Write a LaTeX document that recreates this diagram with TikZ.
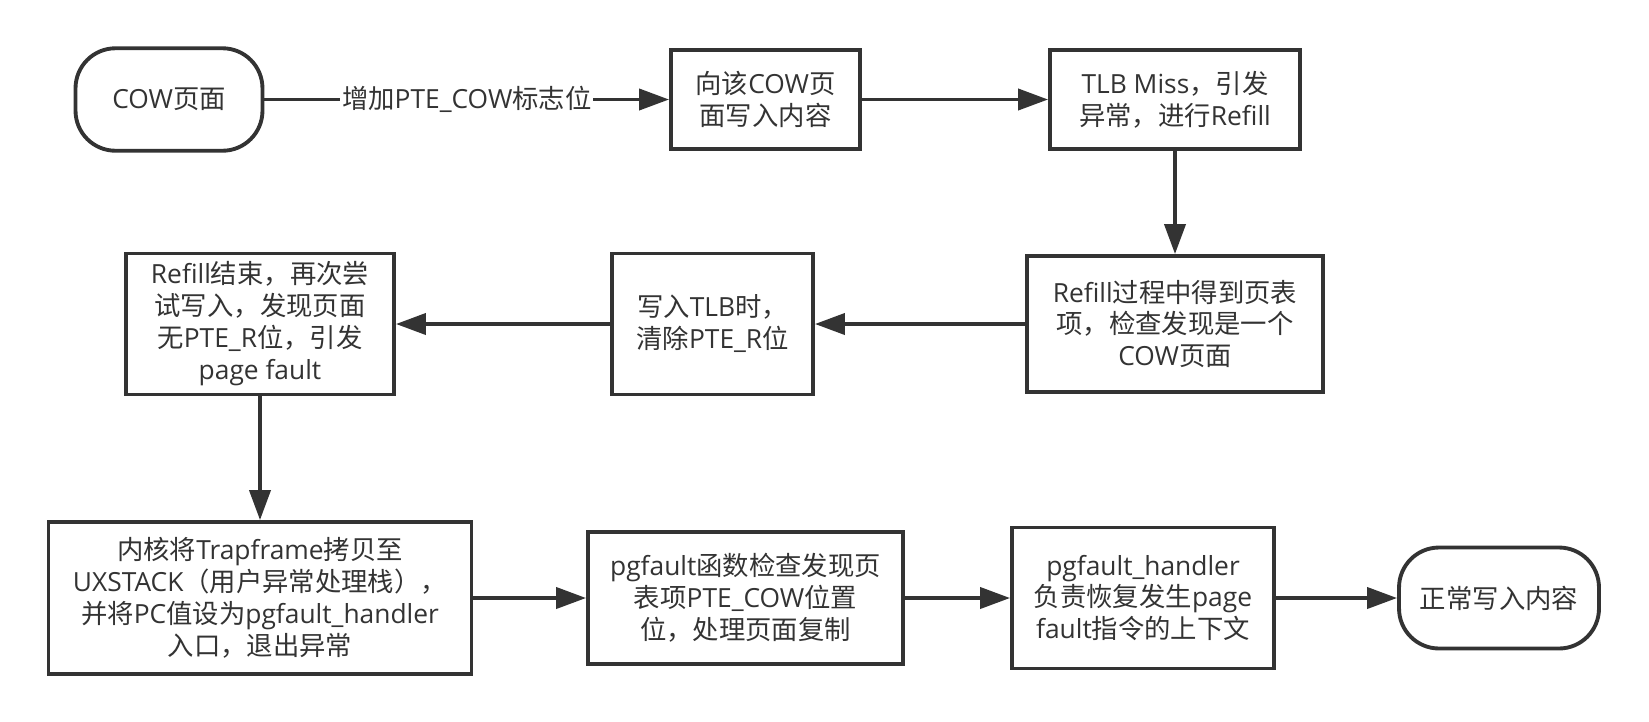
\documentclass[tikz,border=0pt]{standalone}
\usepackage{fontspec}
\setmainfont{Open Sans}
\newfontfamily\cjkfont{Noto Sans CJK SC}
\usetikzlibrary{arrows.meta}
\definecolor{ink}{HTML}{333333}
% switch to the CJK family for CJK characters
\XeTeXinterchartokenstate=1
\newXeTeXintercharclass\cjkclass
\newcount\charno
\charno="3000
\loop \XeTeXcharclass\charno=\cjkclass \advance\charno by 1 \ifnum\charno<"A000 \repeat
\charno="FF00
\loop \XeTeXcharclass\charno=\cjkclass \advance\charno by 1 \ifnum\charno<"FFF0 \repeat
\XeTeXinterchartoks 0 \cjkclass = {\cjkfont}
\XeTeXinterchartoks 4095 \cjkclass = {\cjkfont}
\XeTeXinterchartoks \cjkclass 0 = {\rmfamily}

\begin{document}
\begin{tikzpicture}[x=0.02cm, y=-0.02cm,
  every node/.style={font=\fontsize{15}{18.2}\selectfont, text=ink, align=center},
  stepbox/.style={draw=ink, line width=2.2pt, inner sep=0pt},
  endbox/.style={stepbox, rounded corners=0.8cm},
  flow/.style={draw=ink, line width=2.2pt, -{Triangle[length=0.6cm, width=0.42cm]}}]
  \fill[white] (0,0) rectangle (1649,721);
  \useasboundingbox (0,0) rectangle (1649,721);

  % top row
  \node[endbox, minimum width=3.74cm, minimum height=2.05cm] (cow) at (169,99.5) {COW页面};
  \node[stepbox, minimum width=3.78cm, minimum height=1.98cm] (write) at (765.5,99.5) {向该COW页\\面写入内容};
  \node[stepbox, minimum width=5cm, minimum height=1.98cm] (miss) at (1175,99.5) {TLB Miss，引发\\异常，进行Refill};

  % middle row
  \node[stepbox, minimum width=5.92cm, minimum height=2.72cm] (refill) at (1175,324) {Refill过程中得到页表\\项，检查发现是一个\\COW页面};
  \node[stepbox, minimum width=4.02cm, minimum height=2.82cm] (clear) at (712.5,324) {写入TLB时，\\清除PTE\_R位};
  \node[stepbox, minimum width=5.36cm, minimum height=2.82cm] (retry) at (260,324) {Refill结束，再次尝\\试写入，发现页面\\无PTE\_R位，引发\\page fault};

  % bottom row
  \node[stepbox, minimum width=8.46cm, minimum height=3.04cm] (kernel) at (260,598) {内核将Trapframe拷贝至\\UXSTACK（用户异常处理栈），\\并将PC值设为pgfault\_handler\\入口，退出异常};
  \node[stepbox, minimum width=6.3cm, minimum height=2.64cm] (copy) at (745.5,598) {pgfault函数检查发现页\\表项PTE\_COW位置\\位，处理页面复制};
  \node[stepbox, minimum width=5.24cm, minimum height=2.82cm] (handler) at (1143,598) {pgfault\_handler\\负责恢复发生page\\fault指令的上下文};
  \node[endbox, minimum width=4cm, minimum height=2.02cm] (done) at (1499,598) {正常写入内容};

  \draw[flow] (cow) -- node[fill=white, inner sep=1pt] {增加PTE\_COW标志位} (write);
  \foreach \a/\b in {write/miss, miss/refill, refill/clear, clear/retry, retry/kernel, kernel/copy, copy/handler, handler/done}
    \draw[flow] (\a) -- (\b);
\end{tikzpicture}
\end{document}
